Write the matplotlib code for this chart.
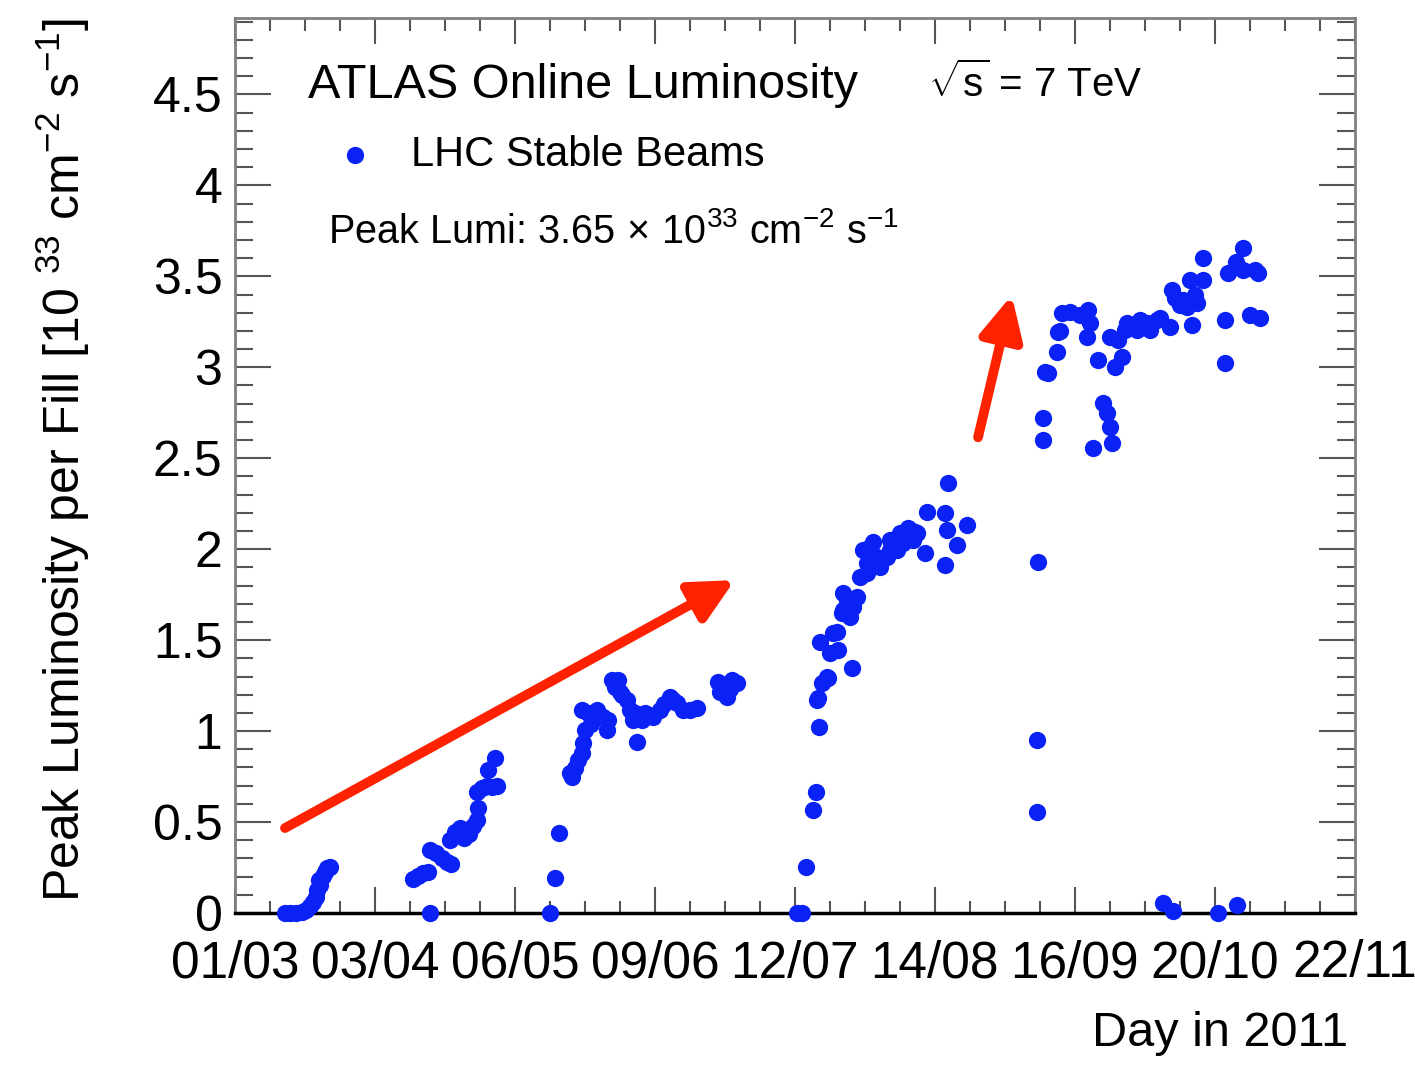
import numpy as np
import matplotlib
matplotlib.use("Agg")
import matplotlib.pyplot as plt
from matplotlib.ticker import AutoMinorLocator, MultipleLocator, FormatStrFormatter

plt.rcParams['font.family'] = ['Liberation Sans', 'DejaVu Sans']
plt.rcParams['mathtext.fontset'] = 'custom'
plt.rcParams['mathtext.rm'] = 'Liberation Sans'
plt.rcParams['mathtext.it'] = 'Liberation Sans:italic'
plt.rcParams['mathtext.bf'] = 'Liberation Sans:bold'

# day of year 2011 for each fill, and peak luminosity [1e33 cm^-2 s^-1]
day = [
    71.9, 73.1, 74.5, 75.9, 76.9, 77.8, 78.5, 79.2, 79.5, 80.2, 80.0, 80.9, 81.4, 81.9, 82.6,
    102.3, 103.5, 104.7, 105.8, 106.3, 106.3, 107.7, 109.2, 110.4, 111.3, 111.1, 112.3, 113.4,
    114.4, 115.6, 116.5, 117.5, 117.7, 117.5, 118.7, 119.9, 121.0, 122.2, 120.1, 121.8,
    134.8, 136.0, 137.0, 139.5, 140.0, 140.8, 141.5, 142.4, 142.7, 143.1, 142.4, 143.8, 144.5,
    146.0, 147.4, 148.4, 148.6, 149.5, 150.2, 151.0, 151.4, 152.0, 153.1, 153.8, 154.5, 155.0,
    155.5, 156.7, 157.4, 158.3, 159.3, 160.9, 162.0, 163.3, 164.0, 165.0, 166.4, 168.1, 169.7,
    174.7, 175.2, 176.9, 177.5, 178.0, 179.2,
    193.5, 194.7, 195.6, 197.3, 198.0, 198.7, 198.2, 198.5, 199.4, 200.8, 200.6, 198.9, 201.3,
    203.2, 203.0, 202.0, 206.5, 204.2, 205.4, 204.4, 207.7, 206.8, 206.1, 204.4, 208.4, 210.1,
    209.2, 211.5, 213.2, 214.9, 217.2, 218.7, 220.3, 222.0, 221.0, 224.4, 223.9, 228.6, 229.1,
    229.3, 231.5, 233.9, 228.6, 210.8, 212.5, 213.2, 210.1, 215.6, 217.9, 219.8, 221.5, 215.6,
    250.7, 250.5, 250.5, 251.9, 251.9, 252.4, 253.1, 255.2, 255.5, 255.9, 256.4, 258.3, 260.7,
    262.6, 263.1, 262.4, 265.0, 266.2, 267.1, 267.8, 268.3, 263.8, 267.8, 269.0, 269.7, 270.7,
    271.4, 271.9, 274.2, 275.0, 276.6, 277.3, 279.0, 279.7, 282.1, 282.5, 283.3, 284.4, 285.2,
    286.1, 286.8, 287.3, 288.0, 288.5, 289.9, 289.9, 295.1, 295.1, 295.8, 297.7, 299.4, 299.4,
    301.1, 302.3, 303.0, 303.4,
    280.4, 282.8, 293.5, 298.0,
]
peak_lumi = [
    0.0, 0.0, 0.0, 0.005, 0.016, 0.038, 0.06, 0.088, 0.126, 0.154, 0.181, 0.203, 0.225, 0.247, 0.253,
    0.187, 0.203, 0.22, 0.225, 0.0, 0.346, 0.33, 0.302, 0.28, 0.269, 0.401, 0.445, 0.467,
    0.412, 0.434, 0.478, 0.511, 0.577, 0.665, 0.687, 0.698, 0.692, 0.698, 0.786, 0.852,
    0.0, 0.192, 0.44, 0.77, 0.747, 0.797, 0.841, 0.879, 0.934, 1.005, 1.115, 1.099, 1.04,
    1.115, 1.077, 1.005, 1.06, 1.28, 1.24, 1.28, 1.214, 1.2, 1.17, 1.115, 1.06, 1.1,
    0.94, 1.06, 1.099, 1.09, 1.077, 1.115, 1.15, 1.187, 1.17, 1.154, 1.115, 1.115, 1.126,
    1.269, 1.214, 1.187, 1.23, 1.28, 1.264,
    0.0, 0.0, 0.253, 0.566, 0.665, 1.022, 1.17, 1.181, 1.264, 1.291, 1.297, 1.489, 1.429,
    1.445, 1.544, 1.538, 1.346, 1.648, 1.72, 1.758, 1.736, 1.681, 1.626, 1.665, 1.846, 1.923,
    1.995, 2.038, 1.94, 1.956, 1.995, 2.033, 2.104, 2.088, 2.049, 2.203, 1.978, 2.198, 2.104,
    2.363, 2.022, 2.132, 1.912, 2.011, 1.956, 1.901, 1.868, 2.049, 2.088, 2.115, 2.093, 1.995,
    1.929, 0.951, 0.555, 2.72, 2.6, 2.973, 2.967, 3.082, 3.192, 3.2, 3.297, 3.302, 3.286,
    3.313, 3.242, 3.165, 3.038, 2.802, 2.747, 2.67, 2.582, 2.555, 3.165, 3.0, 3.148, 3.055,
    3.203, 3.242, 3.203, 3.258, 3.242, 3.203, 3.258, 3.269, 3.22, 3.423, 3.379, 3.341, 3.368,
    3.33, 3.478, 3.231, 3.396, 3.352, 3.478, 3.599, 3.258, 3.022, 3.516, 3.577, 3.654, 3.533,
    3.286, 3.533, 3.516, 3.269,
    0.055, 0.011, 0.0, 0.044,
]

tick_days = np.linspace(60, 326, 9)
tick_labels = ['01/03', '03/04', '06/05', '09/06', '12/07', '14/08', '16/09', '20/10', '22/11']

fig = plt.figure(figsize=(14.15, 10.66), dpi=100)
ax = fig.add_axes([0.166, 0.1435, 0.7915, 0.8396])

ax.scatter(day, peak_lumi, s=155, color='#0a22f5', linewidths=0, clip_on=False,
           zorder=3, label='LHC Stable Beams')

ax.set_xlim(60, 326)
ax.set_ylim(0, 4.92)
ax.set_xticks(tick_days)
ax.set_xticklabels(tick_labels)
ax.xaxis.set_minor_locator(AutoMinorLocator(4))
ax.yaxis.set_major_locator(MultipleLocator(0.5))
ax.yaxis.set_minor_locator(AutoMinorLocator(5))
ax.yaxis.set_major_formatter(FormatStrFormatter('%g'))

ax.tick_params(which='both', direction='in', top=True, right=True, color='#555555')
ax.tick_params(axis='y', which='major', length=26, width=1.5, pad=9, labelsize=36)
ax.tick_params(axis='y', which='minor', length=13, width=1.5)
ax.tick_params(axis='x', which='major', length=19, width=1.5, pad=19, labelsize=37)
ax.tick_params(axis='x', which='minor', length=9, width=1.5)

for side in ['left', 'top', 'right']:
    ax.spines[side].set_color('#808080')
    ax.spines[side].set_linewidth(2)
ax.spines['bottom'].set_color('black')
ax.spines['bottom'].set_linewidth(2.5)

ax.set_ylabel(r'Peak Luminosity per Fill [10 $^{33}$ cm$^{-2}$ s$^{-1}$]', fontsize=36, loc='top')
ax.yaxis.set_label_coords(-0.128, 1.0)
ax.set_xlabel('Day in 2011', fontsize=35, loc='right')
ax.xaxis.set_label_coords(0.994, -0.11)

# red arrows showing the ramp-up
arrow_style = dict(arrowstyle='-|>', color='#ff2200', lw=7, mutation_scale=65,
                   shrinkA=0, shrinkB=0)
ax.annotate('', xy=(178.7, 1.83), xytext=(71.9, 0.467), arrowprops=arrow_style)
ax.annotate('', xy=(244.5, 3.396), xytext=(236.5, 2.615), arrowprops=arrow_style)

fig.text(0.2177, 0.908, 'ATLAS Online Luminosity', fontsize=35, va='baseline')
fig.text(0.656, 0.909, r'$\sqrt{\mathrm{s}}$ = 7 TeV', fontsize=29, va='baseline')
fig.text(0.2318, 0.772, r'Peak Lumi: 3.65$\,\times\,$10$^{33}$ cm$^{-2}$ s$^{-1}$',
         fontsize=28.5, va='baseline')

ax.legend(loc='center left', bbox_to_anchor=(0.236, 0.8545), bbox_transform=fig.transFigure,
          frameon=False, fontsize=30, handlelength=1.0, handletextpad=0.86,
          borderpad=0, borderaxespad=0, scatterpoints=1)

fig.savefig('out.png', dpi=100)
